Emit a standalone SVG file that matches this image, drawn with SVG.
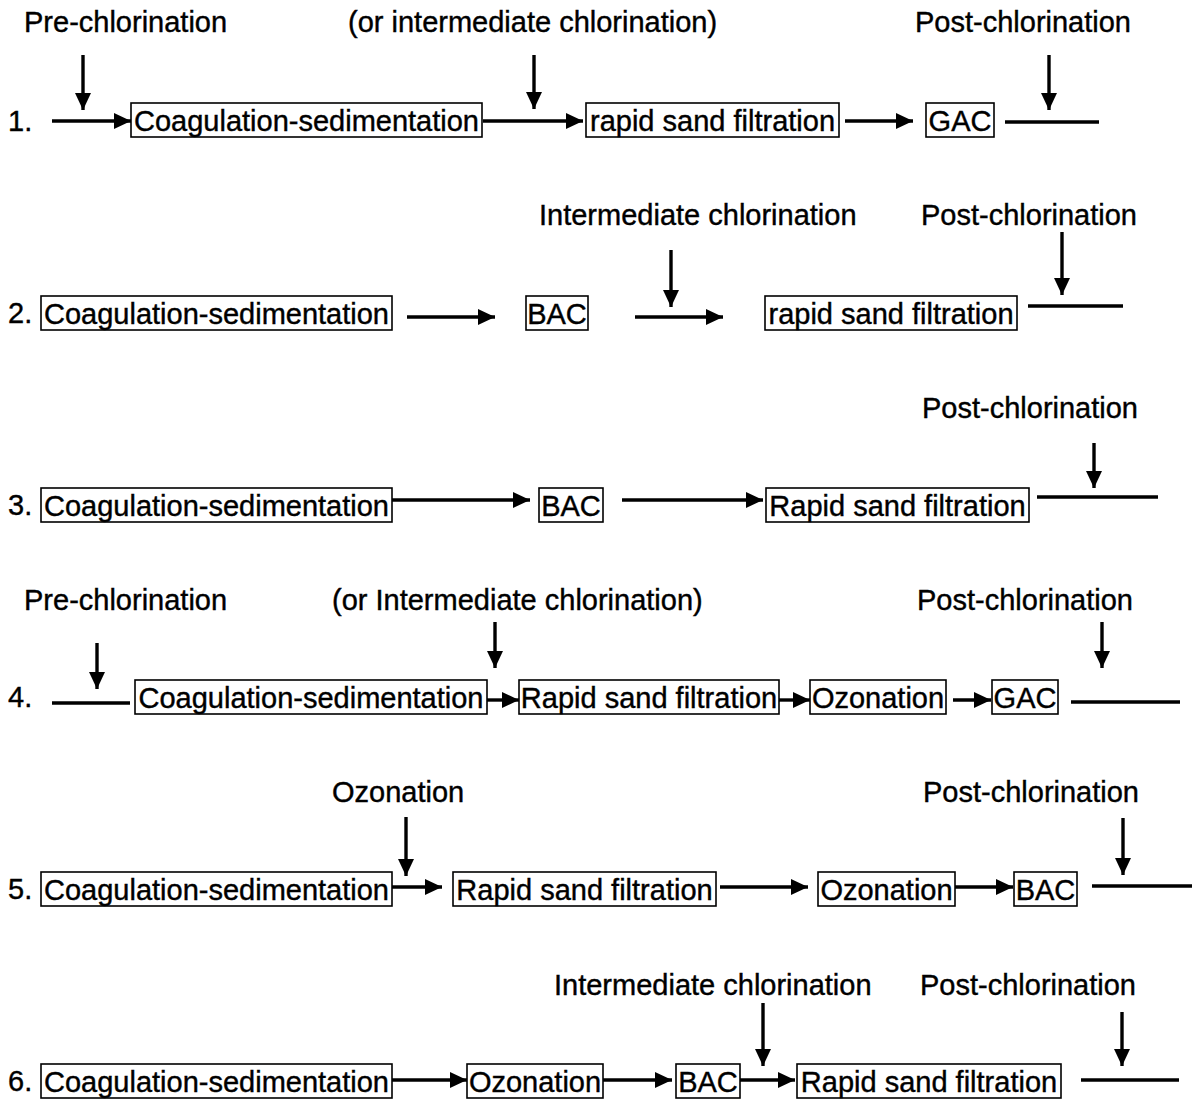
<svg xmlns="http://www.w3.org/2000/svg" width="1192" height="1103" viewBox="0 0 1192 1103">
<style>
text{font-family:"Liberation Sans",Arial,sans-serif;font-size:29px;fill:#000;stroke:#000;stroke-width:0.4}
.bt{text-anchor:middle}
rect{fill:#fff;stroke:#000;stroke-width:1.6}
.c line{stroke:#000;stroke-width:3.4}
.a{marker-end:url(#ah)}
</style>
<defs>
<marker id="ah" markerUnits="userSpaceOnUse" markerWidth="17" markerHeight="16" refX="17" refY="8" orient="auto">
<path d="M0,0 L17,8 L0,16 z" fill="#000"/>
</marker>
</defs>
<rect x="0" y="0" width="1192" height="1103" style="stroke:none"/>
<g id="labels">
<text x="24" y="32">Pre-chlorination</text>
<text x="348" y="32">(or intermediate chlorination)</text>
<text x="915" y="32">Post-chlorination</text>
<text x="539" y="225">Intermediate chlorination</text>
<text x="921" y="225">Post-chlorination</text>
<text x="922" y="418">Post-chlorination</text>
<text x="24" y="610">Pre-chlorination</text>
<text x="332" y="610">(or Intermediate chlorination)</text>
<text x="917" y="610">Post-chlorination</text>
<text x="332" y="802">Ozonation</text>
<text x="923" y="802">Post-chlorination</text>
<text x="554" y="995">Intermediate chlorination</text>
<text x="920" y="995">Post-chlorination</text>
<text x="8" y="131">1.</text>
<text x="8" y="323">2.</text>
<text x="8" y="515">3.</text>
<text x="8" y="707">4.</text>
<text x="8" y="899">5.</text>
<text x="8" y="1091">6.</text>
</g>
<g id="r1-coag"><rect x="131" y="103" width="351" height="34"/><text class="bt" x="306.5" y="131">Coagulation-sedimentation</text></g>
<g id="r1-rsf"><rect x="586" y="103" width="253" height="34"/><text class="bt" x="712.5" y="131">rapid sand filtration</text></g>
<g id="r1-gac"><rect x="926" y="103" width="68" height="34"/><text class="bt" x="960" y="131">GAC</text></g>
<g id="r2-coag"><rect x="41" y="296" width="351" height="34"/><text class="bt" x="216.5" y="324">Coagulation-sedimentation</text></g>
<g id="r2-bac"><rect x="526" y="296" width="62" height="34"/><text class="bt" x="557" y="324">BAC</text></g>
<g id="r2-rsf"><rect x="765" y="296" width="252" height="34"/><text class="bt" x="891" y="324">rapid sand filtration</text></g>
<g id="r3-coag"><rect x="41" y="488" width="351" height="34"/><text class="bt" x="216.5" y="516">Coagulation-sedimentation</text></g>
<g id="r3-bac"><rect x="539" y="488" width="64" height="34"/><text class="bt" x="571" y="516">BAC</text></g>
<g id="r3-rsf"><rect x="766" y="488" width="263" height="34"/><text class="bt" x="897.5" y="516">Rapid sand filtration</text></g>
<g id="r4-coag"><rect x="135" y="680" width="352" height="34"/><text class="bt" x="311" y="708">Coagulation-sedimentation</text></g>
<g id="r4-rsf"><rect x="519" y="680" width="260" height="34"/><text class="bt" x="649" y="708">Rapid sand filtration</text></g>
<g id="r4-oz"><rect x="810" y="680" width="136" height="34"/><text class="bt" x="878" y="708">Ozonation</text></g>
<g id="r4-gac"><rect x="992" y="680" width="66" height="34"/><text class="bt" x="1025" y="708">GAC</text></g>
<g id="r5-coag"><rect x="41" y="872" width="351" height="34"/><text class="bt" x="216.5" y="900">Coagulation-sedimentation</text></g>
<g id="r5-rsf"><rect x="453" y="872" width="263" height="34"/><text class="bt" x="584.5" y="900">Rapid sand filtration</text></g>
<g id="r5-oz"><rect x="818" y="872" width="137" height="34"/><text class="bt" x="886.5" y="900">Ozonation</text></g>
<g id="r5-bac"><rect x="1014" y="872" width="63" height="34"/><text class="bt" x="1045.5" y="900">BAC</text></g>
<g id="r6-coag"><rect x="41" y="1064" width="351" height="34"/><text class="bt" x="216.5" y="1092">Coagulation-sedimentation</text></g>
<g id="r6-oz"><rect x="467" y="1064" width="136" height="34"/><text class="bt" x="535" y="1092">Ozonation</text></g>
<g id="r6-bac"><rect x="676" y="1064" width="64" height="34"/><text class="bt" x="708" y="1092">BAC</text></g>
<g id="r6-rsf"><rect x="797" y="1064" width="264" height="34"/><text class="bt" x="929" y="1092">Rapid sand filtration</text></g>
<g id="connectors" class="c">
<line class="a" x1="52" y1="121" x2="131" y2="121"/>
<line class="a" x1="83" y1="55" x2="83" y2="110"/>
<line class="a" x1="483" y1="121" x2="583" y2="121"/>
<line class="a" x1="534" y1="55" x2="534" y2="109"/>
<line class="a" x1="845" y1="121" x2="913" y2="121"/>
<line x1="1005" y1="122" x2="1099" y2="122"/>
<line class="a" x1="1049" y1="55" x2="1049" y2="110"/>
<line class="a" x1="407" y1="317" x2="495" y2="317"/>
<line class="a" x1="635" y1="317" x2="723" y2="317"/>
<line class="a" x1="671" y1="250" x2="671" y2="307"/>
<line x1="1028" y1="306" x2="1123" y2="306"/>
<line class="a" x1="1062" y1="232" x2="1062" y2="295"/>
<line class="a" x1="392" y1="500" x2="530" y2="500"/>
<line class="a" x1="622" y1="500" x2="763" y2="500"/>
<line x1="1037" y1="497" x2="1158" y2="497"/>
<line class="a" x1="1094" y1="443" x2="1094" y2="488"/>
<line x1="52" y1="703" x2="130" y2="703"/>
<line class="a" x1="97" y1="643" x2="97" y2="689"/>
<line class="a" x1="487" y1="700" x2="519" y2="700"/>
<line class="a" x1="495" y1="622" x2="495" y2="668"/>
<line class="a" x1="779" y1="700" x2="810" y2="700"/>
<line class="a" x1="953" y1="700" x2="991" y2="700"/>
<line x1="1071" y1="702" x2="1180" y2="702"/>
<line class="a" x1="1102" y1="622" x2="1102" y2="668"/>
<line class="a" x1="392" y1="887" x2="442" y2="887"/>
<line class="a" x1="406" y1="817" x2="406" y2="876"/>
<line class="a" x1="720" y1="887" x2="808" y2="887"/>
<line class="a" x1="955" y1="887" x2="1013" y2="887"/>
<line x1="1092" y1="886" x2="1192" y2="886"/>
<line class="a" x1="1123" y1="818" x2="1123" y2="875"/>
<line class="a" x1="392" y1="1080" x2="467" y2="1080"/>
<line class="a" x1="603" y1="1080" x2="672" y2="1080"/>
<line class="a" x1="740" y1="1080" x2="795" y2="1080"/>
<line class="a" x1="763" y1="1003" x2="763" y2="1066"/>
<line x1="1081" y1="1080" x2="1179" y2="1080"/>
<line class="a" x1="1122" y1="1012" x2="1122" y2="1066"/>
</g>
</svg>
